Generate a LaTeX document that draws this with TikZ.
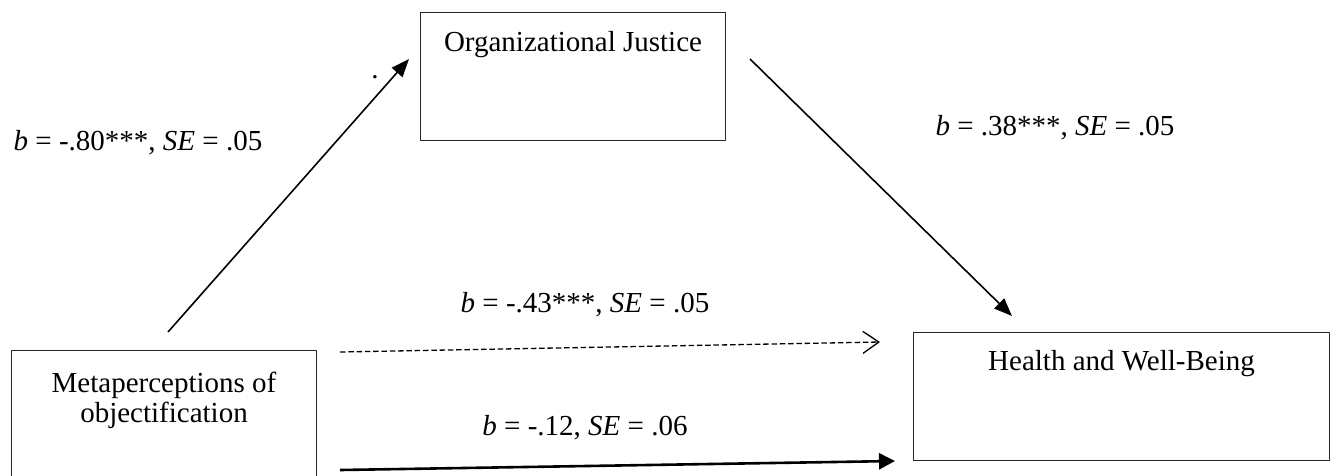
\documentclass[tikz,border=0pt]{standalone}
\usepackage{fontspec}
\setmainfont{Liberation Serif}
\usetikzlibrary{arrows.meta}
\begin{document}
\begin{tikzpicture}[x=1pt,y=-1pt,line join=round,
  box/.style={draw=black!85,line width=1pt,anchor=north west,inner sep=0pt},
  boxtext/.style={anchor=north,align=center,inner sep=0pt,font=\fontsize{29}{30}\selectfont},
  coef/.style={inner sep=0pt,font=\fontsize{29}{30}\selectfont},
  link/.style={line width=1.6pt,-{Triangle[length=18pt,width=14pt]}}]
\useasboundingbox (0,0) rectangle (1332,475);
% boxes
\node[box,minimum width=305pt,minimum height=128pt] (justice) at (420,12) {};
\node[box,minimum width=305pt,minimum height=140pt] (meta) at (11,350) {};
\node[box,minimum width=416pt,minimum height=128pt] (health) at (913,332) {};
\node[boxtext] (justice text) at ([yshift=-19pt]justice.north) {Organizational Justice};
\node[boxtext] (meta text) at ([yshift=-22pt]meta.north) {Metaperceptions of\\objectification};
\node[boxtext] (health text) at ([yshift=-18pt]health.north) {Health and Well-Being};
% connector ends
\coordinate (meta up) at (168,332);
\coordinate (justice in) at (409,59);
\coordinate (justice out) at (750,59);
\coordinate (health top) at (1012,316);
\coordinate (meta dash) at (340,352);
\coordinate (health dash) at (880,342);
\coordinate (meta low) at (340,470);
\coordinate (health low) at (895,461);
\draw[link] (meta up) -- (justice in);
\draw[link] (justice out) -- (health top);
\draw[line width=1.3pt,dash pattern=on 5.5pt off 2.8pt,-{Straight Barb[length=16pt,width=22pt]}] (meta dash) -- (health dash);
\draw[line width=2.6pt,-{Triangle[length=16pt,width=16pt]}] (meta low) -- (health low);
% coefficients
\node[coef] (a path) at (138,143) {\textit{b} = -.80***, \textit{SE} = .05};
\node[coef] (b path) at (1055,128) {\textit{b} = .38***, \textit{SE} = .05};
\node[coef] (c total) at (585,305) {\textit{b} = -.43***, \textit{SE} = .05};
\node[coef] (c direct) at (585,428) {\textit{b} = -.12, \textit{SE} = .06};
\node[coef] (dot) at (375,77) {.};
\end{tikzpicture}
\end{document}
